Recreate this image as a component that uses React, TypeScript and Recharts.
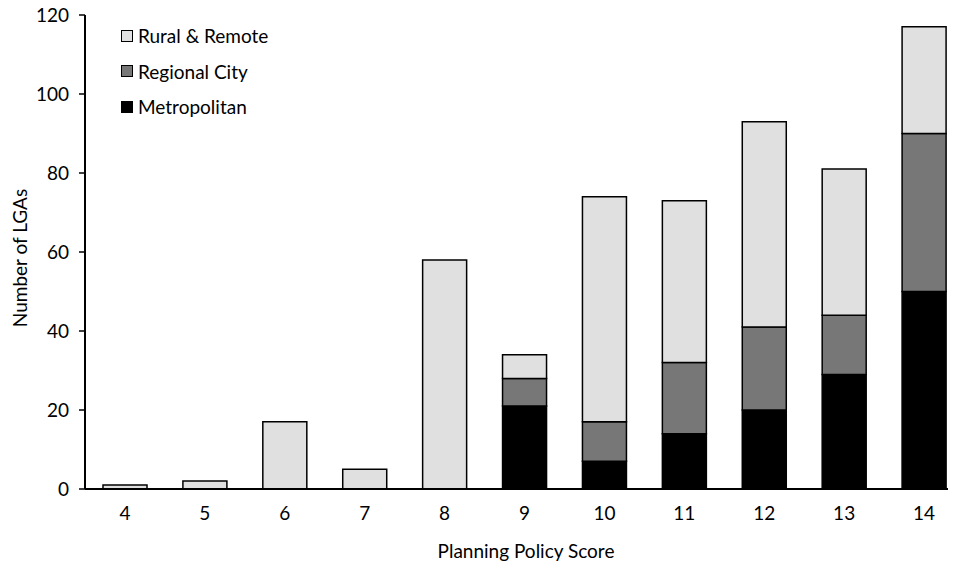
import React from "react";
import { BarChart, Bar, XAxis, YAxis } from "recharts";

const scores = ["4", "5", "6", "7", "8", "9", "10", "11", "12", "13", "14"];
const metropolitan = [0, 0, 0, 0, 0, 21, 7, 14, 20, 29, 50];
const regionalCity = [0, 0, 0, 0, 0, 7, 10, 18, 21, 15, 40];
const ruralRemote = [1, 2, 17, 5, 58, 6, 57, 41, 52, 37, 27];
const yTicks = [0, 20, 40, 60, 80, 100, 120];

const series = [
    { key: "rural", name: "Rural & Remote", color: "#e0e0e0" },
    { key: "regional", name: "Regional City", color: "#777777" },
    { key: "metro", name: "Metropolitan", color: "#000000" },
];

const data = scores.map((s, i) => ({
    score: s,
    metro: metropolitan[i],
    regional: regionalCity[i],
    rural: ruralRemote[i],
}));

const FONT = "Lato, 'Open Sans', sans-serif";

function LegendBox() {
    return (
        <div style={{ position: "absolute", left: 121, top: 18, fontFamily: FONT, fontSize: 19, color: "#000" }}>
            {series.map(s => (
                <div key={s.key} style={{ display: "flex", alignItems: "center", height: 35.5 }}>
                    <span
                        style={{
                            display: "inline-block",
                            boxSizing: "border-box",
                            width: 12,
                            height: 12,
                            background: s.color,
                            border: "1.5px solid #000",
                            marginRight: 5,
                        }}
                    />
                    {s.name}
                </div>
            ))}
        </div>
    );
}

export default function App() {
    return (
        <div style={{ position: "absolute", left: 0, top: 0, width: 958, height: 562, background: "#fff", overflow: "hidden" }}>
            <BarChart
                width={958}
                height={562}
                data={data}
                margin={{ top: 15, right: 10, bottom: 33, left: 30 }}
                barSize={44}
            >
                <XAxis
                    dataKey="score"
                    tickLine={false}
                    axisLine={{ stroke: "#000", strokeWidth: 2 }}
                    tick={{ fontSize: 19, fill: "#000", fontFamily: FONT }}
                    tickMargin={12}
                    height={40}
                    padding={{ left: 0, right: -16 }}
                />
                <YAxis
                    width={55}
                    domain={[0, 120]}
                    ticks={yTicks}
                    interval={0}
                    axisLine={{ stroke: "#000", strokeWidth: 2 }}
                    tickLine={{ stroke: "#000", strokeWidth: 1.5 }}
                    tickSize={6}
                    tick={{ fontSize: 19, fill: "#000", fontFamily: FONT }}
                    tickMargin={10}
                />
                <Bar dataKey="metro" stackId="a" fill="#000000" stroke="#000" strokeWidth={1.5} isAnimationActive={false} />
                <Bar dataKey="regional" stackId="a" fill="#777777" stroke="#000" strokeWidth={1.5} isAnimationActive={false} />
                <Bar dataKey="rural" stackId="a" fill="#e0e0e0" stroke="#000" strokeWidth={1.5} isAnimationActive={false} />
                <text x={19} y={258} transform="rotate(-90 19 258)" textAnchor="middle" dominantBaseline="central"
                    style={{ fontSize: 19, fontFamily: FONT, fill: "#000" }}>
                    Number of LGAs
                </text>
                <text x={526} y={550} textAnchor="middle" dominantBaseline="central"
                    style={{ fontSize: 19, fontFamily: FONT, fill: "#000" }}>
                    Planning Policy Score
                </text>
            </BarChart>
            <LegendBox />
        </div>
    );
}
